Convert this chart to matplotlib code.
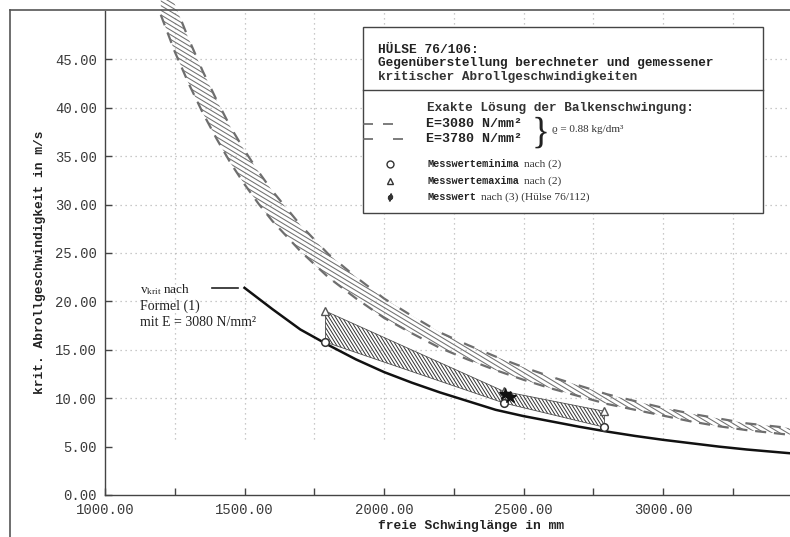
import matplotlib
matplotlib.use("Agg")
import matplotlib.pyplot as plt
import numpy as np
from matplotlib.collections import LineCollection
from matplotlib.lines import Line2D
from matplotlib.patches import Rectangle

# ---------------- data ----------------
# exact beam solution, E = 3080 and E = 3780 N/mm^2
L_exact = [1200, 1250, 1300, 1350, 1400, 1450, 1500, 1550, 1600, 1700, 1800,
           1900, 2000, 2100, 2200, 2300, 2400, 2500, 2600, 2700, 2800, 2900,
           3000, 3100, 3200, 3300, 3460]
v_e3080 = [49.6, 45.8, 42.5, 39.5, 36.8, 34.3, 32.1, 30.1, 28.3, 25.2, 22.5,
           20.3, 18.3, 16.7, 15.2, 14.0, 12.9, 11.9, 11.0, 10.2, 9.4, 8.8,
           8.2, 7.6, 7.1, 6.7, 6.2]
v_e3780 = [55.0, 50.7, 47.1, 43.8, 40.8, 38.0, 35.6, 33.4, 31.4, 27.9, 24.9,
           22.5, 20.3, 18.5, 16.8, 15.5, 14.3, 13.2, 12.2, 11.3, 10.4, 9.7,
           9.0, 8.4, 7.9, 7.4, 6.9]

# v_krit after formula (1), E = 3080 N/mm^2
L_formel = [1500, 1600, 1700, 1800, 1900, 2000, 2100, 2200, 2300, 2400, 2500,
            2600, 2700, 2800, 2900, 3000, 3100, 3200, 3300, 3460]
v_formel = [21.4, 19.2, 17.1, 15.5, 14.0, 12.7, 11.6, 10.6, 9.7, 8.8, 8.15,
            7.6, 7.05, 6.55, 6.1, 5.7, 5.35, 5.0, 4.7, 4.3]

# measured values
L_mess = [1790, 2430, 2790]
v_min = [15.8, 9.5, 7.0]     # Messwerteminima nach (2)
v_max = [19.0, 10.7, 8.65]   # Messwertemaxima nach (2)
L_m3 = [2432, 2452]          # Messwert nach (3)
v_m3 = [10.4, 10.1]

x_major = [1000, 1500, 2000, 2500, 3000]
x_minor = [1250, 1750, 2250, 2750, 3250]
y_major = [0, 5, 10, 15, 20, 25, 30, 35, 40, 45]
grid_y = [10, 15, 20, 25, 30, 35, 40, 45]
grid_x = [1250, 1500, 1750, 2000, 2250, 2500, 2750, 3000, 3250]

# ---------------- figure ----------------
W_PX, H_PX = 790, 537
fig = plt.figure(figsize=(7.9, 5.37), dpi=100)
fig.patch.set_facecolor("white")


def fx(px):
    return px / W_PX


def fy(py):
    return 1 - py / H_PX


MONO = "Liberation Mono"
SERIF = ["Liberation Serif", "DejaVu Serif"]
TXT = "#222222"

ax = fig.add_axes([fx(105), fy(495), fx(790) - fx(105), fy(11) - fy(495)])
ax.set_xlim(1000, 3455)
ax.set_ylim(0, 50)
ax.set_facecolor("white")

# grid (dotted)
ax.hlines(grid_y, 1000, 3455, colors="#b8b8b8", linestyles=(0, (1, 3)), lw=0.9, zorder=0)
ax.vlines(grid_x, 5.8, 50, colors="#b8b8b8", linestyles=(0, (1, 3)), lw=0.9, zorder=0)


def clip_hatch(poly, slope, spacing, color, lw):
    pos = ax.get_position()
    W = pos.width * W_PX
    H = pos.height * H_PX
    dc = spacing * np.sqrt(1 + slope ** 2)
    cmin = min(0, -slope * W) - H - 10
    cmax = max(H, H - slope * W) + H + 10
    segs = []
    for c in np.arange(cmin, cmax, dc):
        segs.append([(0, c / H), (1, (c + slope * W) / H)])
    lc = LineCollection(segs, transform=ax.transAxes, colors=color, linewidths=lw, zorder=2)
    lc.set_clip_path(poly.get_paths()[0], ax.transData)
    ax.add_collection(lc, autolim=False)


# band of the exact solution
band = ax.fill_between(L_exact, v_e3080, v_e3780, facecolor="none", edgecolor="none")
clip_hatch(band, -0.6, 4.0, "#707070", 0.75)
ax.plot(L_exact, v_e3080, color="#6e6e6e", lw=1.6, dashes=(5, 3.5), zorder=3)
ax.plot(L_exact, v_e3780, color="#6e6e6e", lw=1.6, dashes=(5, 6), zorder=3)

# measured range
meas = ax.fill_between(L_mess, v_min, v_max, facecolor="none", edgecolor="#555555", lw=0.6)
clip_hatch(meas, -1.6, 2.8, "#333333", 0.7)

# formula (1)
ax.plot(L_formel, v_formel, color="#111111", lw=1.8, zorder=4)
ax.plot([L_formel[0] - 115, L_formel[0] - 25], [v_formel[0], v_formel[0]],
        color="#222222", lw=1.2, zorder=4)

# markers
ax.plot(L_mess, v_min, "o", ls="none", mfc="white", mec="#333333", ms=5.5, mew=1.1, zorder=5)
ax.plot(L_mess, v_max, "^", ls="none", mfc="white", mec="#555555", ms=5.5, mew=1.0, zorder=5)
ax.plot(L_m3, v_m3, "*", ls="none", color="#111111", ms=9, zorder=6)

# axes styling
for s in ["top", "right"]:
    ax.spines[s].set_visible(False)
for s in ["left", "bottom"]:
    ax.spines[s].set_color("#444444")
    ax.spines[s].set_linewidth(1.0)
ax.set_xticks(x_major)
ax.set_xticks(x_minor, minor=True)
ax.set_xticklabels(["%.2f" % v for v in x_major])
ax.set_yticks(y_major)
ax.set_yticklabels(["%.2f" % v for v in y_major])
ax.tick_params(which="both", direction="in", length=5, width=1, color="#444444")
ax.tick_params(axis="y", pad=6)
ax.tick_params(axis="x", pad=6)
for lab in ax.get_xticklabels() + ax.get_yticklabels():
    lab.set_fontfamily(MONO)
    lab.set_fontsize(10)
    lab.set_color("#3a3a3a")

# axis labels
fig.text(fx(471), fy(526), "freie Schwinglänge in mm", family=MONO, weight="bold",
         fontsize=9.3, color=TXT, ha="center", va="center")
fig.text(fx(40), fy(262), "krit. Abrollgeschwindigkeit in m/s", family=MONO, weight="bold",
         fontsize=9.3, color=TXT, ha="center", va="center", rotation=90)

# outer frame
fig.add_artist(Line2D([fx(10), fx(790)], [fy(10), fy(10)], transform=fig.transFigure,
                      color="#555555", lw=1.2))
fig.add_artist(Line2D([fx(10), fx(10)], [fy(10), fy(537)], transform=fig.transFigure,
                      color="#555555", lw=1.2))

# annotation for formula curve
fig.text(fx(140), fy(290), r"$\mathregular{v_{krit}}$ nach", family=SERIF, fontsize=9.5,
         color=TXT, va="center", ha="left")
fig.text(fx(140), fy(306), "Formel (1)", family=SERIF, fontsize=10, color=TXT, va="center")
fig.text(fx(140), fy(322), "mit E = 3080 N/mm²", family=SERIF, fontsize=10, color=TXT,
         va="center")

# ---------------- legend box ----------------
Z = 7
fig.add_artist(Rectangle((fx(363), fy(213)), fx(763) - fx(363), fy(27) - fy(213),
                         transform=fig.transFigure, facecolor="white", edgecolor="#444444",
                         lw=1.0, zorder=Z - 1))
fig.add_artist(Line2D([fx(363), fx(763)], [fy(90), fy(90)], transform=fig.transFigure,
                      color="#444444", lw=1.0, zorder=Z))

fig.text(fx(378), fy(50), "HÜLSE 76/106:", family=MONO, weight="bold", fontsize=9.3,
         color=TXT, va="center", zorder=Z)
fig.text(fx(378), fy(63), "Gegenüberstellung berechneter und gemessener", family=MONO,
         weight="bold", fontsize=9.2, color=TXT, va="center", zorder=Z)
fig.text(fx(378), fy(77), "kritischer Abrollgeschwindigkeiten", family=MONO, weight="bold",
         fontsize=9.2, color="#333333", va="center", zorder=Z)

fig.text(fx(427), fy(108), "Exakte Lösung der Balkenschwingung:", family=MONO, weight="bold",
         fontsize=9.2, color="#333333", va="center", zorder=Z)
fig.text(fx(426), fy(124), "E=3080 N/mm²", family=MONO, weight="bold", fontsize=9.6,
         color=TXT, va="center", zorder=Z)
fig.text(fx(426), fy(139), "E=3780 N/mm²", family=MONO, weight="bold", fontsize=9.6,
         color=TXT, va="center", zorder=Z)
fig.text(fx(532), fy(133), "}", family=SERIF, fontsize=27, color=TXT, va="center",
         zorder=Z, fontweight="light")
fig.text(fx(552), fy(130), "ϱ = 0.88 kg/dm³", family=SERIF, fontsize=8, color="#333333",
         va="center", zorder=Z)

fig.add_artist(Line2D([fx(363), fx(393)], [fy(124), fy(124)], transform=fig.transFigure,
                      color="#666666", lw=1.2, dashes=(6, 6), zorder=Z))
fig.add_artist(Line2D([fx(363), fx(403)], [fy(139), fy(139)], transform=fig.transFigure,
                      color="#666666", lw=1.2, dashes=(6, 12), zorder=Z))

entries = [(164, "o", "Messwerteminima", "nach (2)", 524),
           (181, "^", "Messwertemaxima", "nach (2)", 524),
           (197, r"$\phi$", "Messwert", "nach (3) (Hülse 76/112)", 481)]
for py, mk, bold_txt, serif_txt, sx in entries:
    fig.add_artist(Line2D([fx(390)], [fy(py)], transform=fig.transFigure, marker=mk,
                          ls="none", ms=5, mfc="white" if mk != r"$\phi$" else "#333333",
                          mec="#333333", mew=1.0, zorder=Z))
    fig.text(fx(428), fy(py), bold_txt, family=MONO, weight="bold", fontsize=7.4,
             color=TXT, va="center", zorder=Z)
    fig.text(fx(sx), fy(py), serif_txt, family=SERIF, fontsize=8.2, color="#333333",
             va="center", zorder=Z)

fig.savefig("out.png", dpi=100, facecolor="white")
